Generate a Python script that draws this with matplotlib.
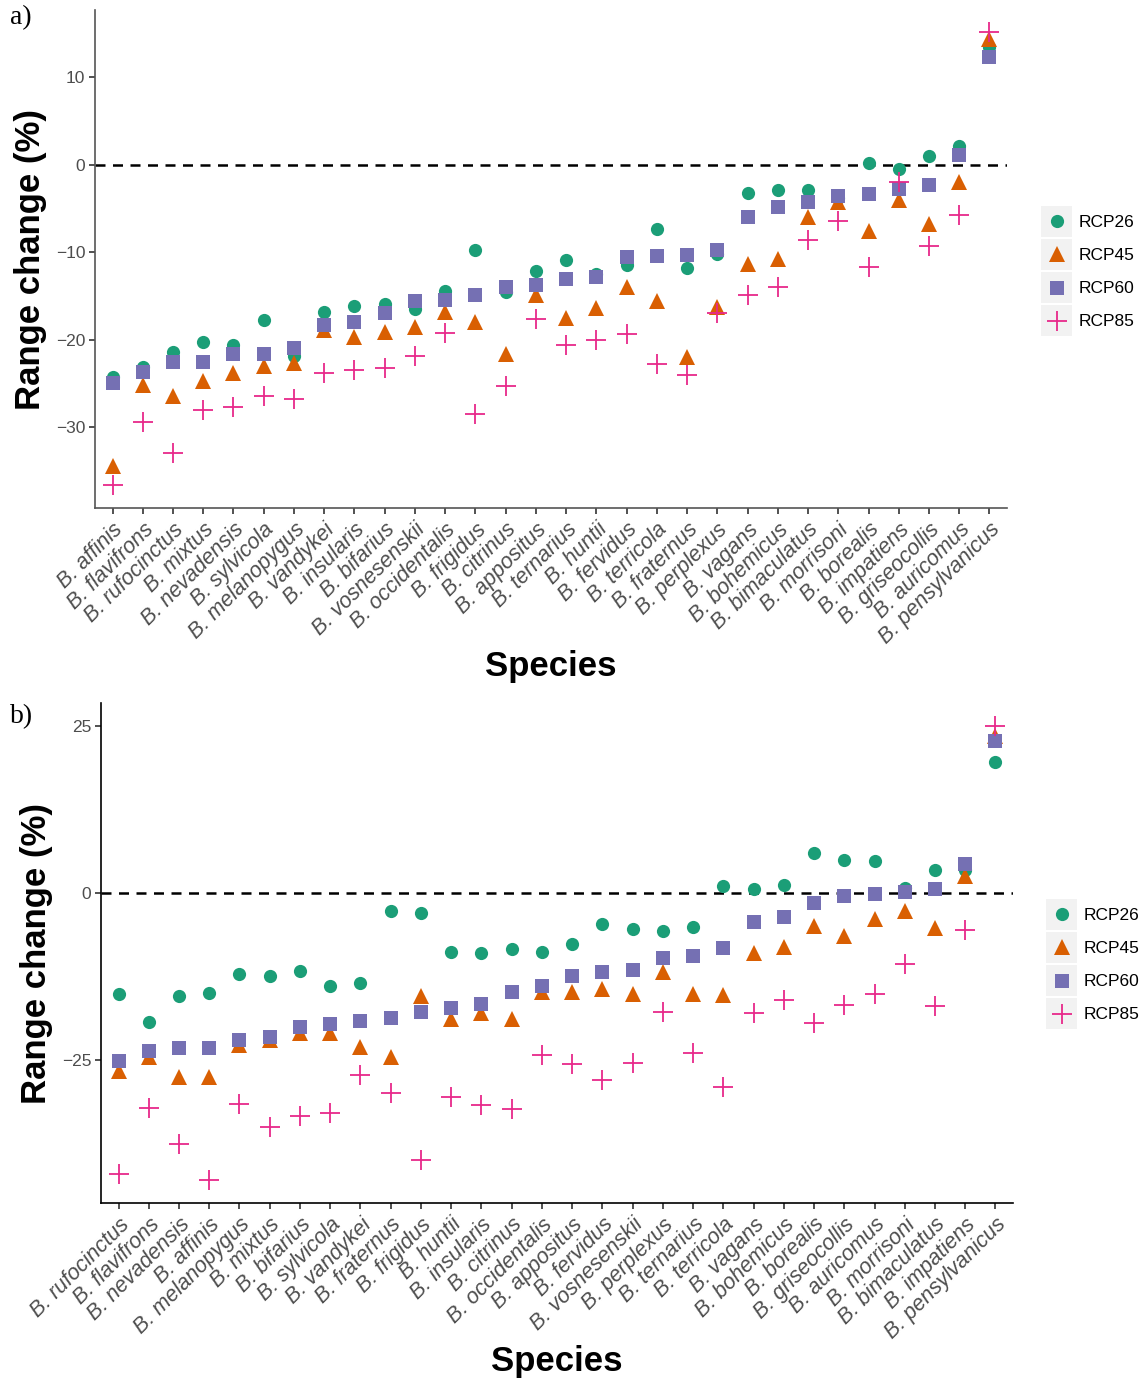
import matplotlib
matplotlib.use("Agg")
import matplotlib.pyplot as plt
from matplotlib.legend_handler import HandlerBase
from matplotlib.patches import Rectangle
from matplotlib.lines import Line2D

# ---- panel a data ----
species_a = ["affinis", "flavifrons", "rufocinctus", "mixtus", "nevadensis",
             "sylvicola", "melanopygus", "vandykei", "insularis", "bifarius",
             "vosnesenskii", "occidentalis", "frigidus", "citrinus", "appositus",
             "ternarius", "huntii", "fervidus", "terricola", "fraternus",
             "perplexus", "vagans", "bohemicus", "bimaculatus", "morrisoni",
             "borealis", "impatiens", "griseocollis", "auricomus", "pensylvanicus"]
rcp26_a = [-24.2, -23.1, -21.4, -20.2, -20.6, -17.7, -21.8, -16.8, -16.1, -15.9,
           -16.5, -14.4, -9.7, -14.5, -12.1, -10.9, -12.5, -11.4, -7.3, -11.8,
           -10.2, -3.2, -2.9, -2.9, -3.8, 0.2, -0.5, 1.0, 2.2, 13.5]
rcp45_a = [-34.4, -25.1, -26.4, -24.7, -23.8, -23.0, -22.6, -18.9, -19.7, -19.1,
           -18.5, -16.8, -17.9, -21.6, -14.9, -17.5, -16.3, -14.0, -15.6, -22.0,
           -16.2, -11.3, -10.8, -5.9, -4.2, -7.5, -4.0, -6.8, -2.0, 14.4]
rcp60_a = [-24.9, -23.7, -22.5, -22.5, -21.6, -21.6, -20.9, -18.3, -17.9, -16.9,
           -15.6, -15.4, -14.9, -13.9, -13.7, -13.0, -12.8, -10.5, -10.4, -10.3,
           -9.7, -5.9, -4.8, -4.2, -3.5, -3.3, -2.7, -2.3, 1.1, 12.3]
rcp85_a = [-36.6, -29.4, -32.9, -28.0, -27.7, -26.4, -26.7, -23.8, -23.4, -23.2,
           -21.8, -19.2, -28.5, -25.3, -17.6, -20.6, -20.0, -19.3, -22.8, -24.0,
           -16.9, -14.9, -14.0, -8.6, -6.4, -11.7, -2.0, -9.3, -5.7, 15.2]

# ---- panel b data ----
species_b = ["rufocinctus", "flavifrons", "nevadensis", "affinis", "melanopygus",
             "mixtus", "bifarius", "sylvicola", "vandykei", "fraternus",
             "frigidus", "huntii", "insularis", "citrinus", "occidentalis",
             "appositus", "fervidus", "vosnesenskii", "perplexus", "ternarius",
             "terricola", "vagans", "bohemicus", "borealis", "griseocollis",
             "auricomus", "morrisoni", "bimaculatus", "impatiens", "pensylvanicus"]
rcp26_b = [-15.1, -19.3, -15.4, -15.0, -12.1, -12.4, -11.7, -13.9, -13.5, -2.7,
           -3.0, -8.9, -9.0, -8.4, -8.9, -7.7, -4.6, -5.4, -5.7, -5.1,
           1.0, 0.6, 1.1, 6.0, 4.9, 4.8, 0.7, 3.4, 3.4, 19.5]
rcp45_b = [-26.7, -24.5, -27.5, -27.6, -22.8, -22.0, -21.0, -21.0, -23.0, -24.5,
           -15.5, -18.8, -18.0, -18.8, -14.8, -14.8, -14.4, -15.1, -11.9, -15.1,
           -15.3, -9.0, -8.1, -5.0, -6.4, -3.9, -2.7, -5.3, 2.5, 23.4]
rcp60_b = [-25.1, -23.6, -23.2, -23.2, -22.0, -21.5, -20.0, -19.6, -19.1, -18.7,
           -17.9, -17.2, -16.6, -14.8, -13.9, -12.5, -11.9, -11.5, -9.7, -9.4,
           -8.2, -4.4, -3.6, -1.5, -0.4, -0.1, 0.2, 0.6, 4.3, 22.7]
rcp85_b = [-42.1, -32.2, -37.5, -42.9, -31.6, -35.1, -33.4, -33.0, -27.2, -29.9,
           -39.9, -30.5, -31.8, -32.3, -24.2, -25.6, -28.0, -25.4, -17.9, -24.0,
           -29.0, -18.0, -16.0, -19.5, -16.8, -15.2, -10.6, -17.0, -5.6, 25.0]

series_names = ["RCP26", "RCP45", "RCP60", "RCP85"]
styles = [
    dict(marker="o", color="#1B9E77", ms=9.5, mew=0, z=2),
    dict(marker="^", color="#D95F02", ms=12, mew=0, z=3),
    dict(marker="s", color="#7570B3", ms=10, mew=0, z=4),
    dict(marker="+", color="#E7298A", ms=14.5, mew=1.3, z=5),
]


class KeyHandler(HandlerBase):
    # ggplot-like legend key: grey box with the point in the middle
    def __init__(self, st):
        super().__init__()
        self.st = st

    def create_artists(self, legend, orig_handle, xdescent, ydescent,
                       width, height, fontsize, trans):
        bg = Rectangle((-xdescent, -ydescent), width, height,
                       facecolor="#F2F2F2", edgecolor="none", transform=trans)
        st = self.st
        mk = Line2D([width / 2 - xdescent], [height / 2 - ydescent],
                    marker=st["marker"], color=st["color"], ms=st["ms"],
                    mew=st["mew"], linestyle="none", transform=trans)
        return [bg, mk]


def draw_panel(ax, species, series, ylim, yticks, spine_color):
    x = list(range(len(species)))
    ax.axhline(0, color="black", linestyle=(0, (4, 3)), lw=1.8, zorder=1)
    handles = []
    for vals, st in zip(series, styles):
        h, = ax.plot(x, vals, linestyle="none", marker=st["marker"],
                     color=st["color"], ms=st["ms"], mew=st["mew"],
                     zorder=st["z"])
        handles.append(h)
    ax.set_xlim(-0.58, len(species) - 0.42)
    ax.set_ylim(*ylim)
    ax.set_yticks(yticks)
    ax.set_yticklabels([str(t).replace("-", "\u2212") for t in yticks])
    ax.set_xticks(x)
    ax.set_xticklabels(["B. " + s for s in species], rotation=45,
                       ha="right", va="top", rotation_mode="anchor",
                       style="italic", fontsize=15.5, color="#4D4D4D")
    for side in ["top", "right"]:
        ax.spines[side].set_visible(False)
    for side in ["left", "bottom"]:
        ax.spines[side].set_color(spine_color)
        ax.spines[side].set_linewidth(1.2)
    ax.tick_params(axis="both", length=4, width=1.2, color="#333333")
    ax.tick_params(axis="y", labelsize=12.5, labelcolor="#4D4D4D", pad=3)
    ax.tick_params(axis="x", pad=4)
    ax.set_ylabel("Range change (%)", fontsize=25, fontweight="bold",
                  labelpad=6)
    ax.set_xlabel("Species", fontsize=25, fontweight="bold", labelpad=1)
    return handles


plt.rcParams["font.family"] = ["Liberation Sans", "DejaVu Sans"]
fig = plt.figure(figsize=(11.45, 13.79), dpi=100)
W, H = 1145, 1379

ax_a = fig.add_axes([95 / W, 1 - 508 / H, 912 / W, 498 / H])
ax_b = fig.add_axes([101 / W, 1 - 1203 / H, 912 / W, 500 / H])

h_a = draw_panel(ax_a, species_a, [rcp26_a, rcp45_a, rcp60_a, rcp85_a],
                 (-39.2, 17.7), [-30, -20, -10, 0, 10], "#555555")
h_b = draw_panel(ax_b, species_b, [rcp26_b, rcp45_b, rcp60_b, rcp85_b],
                 (-46.4, 28.4), [-25, 0, 25], "black")

handler_map_a = {h: KeyHandler(st) for h, st in zip(h_a, styles)}
handler_map_b = {h: KeyHandler(st) for h, st in zip(h_b, styles)}
for handles, hmap, anchor in [(h_a, handler_map_a, (1041 / W, 1 - 271 / H)),
                              (h_b, handler_map_b, (1046 / W, 1 - 964 / H))]:
    fig.legend(handles, series_names, handler_map=hmap, loc="center left",
               bbox_to_anchor=anchor, frameon=False, fontsize=12.5,
               handlelength=1.8, handleheight=2.4, handletextpad=0.35,
               labelspacing=0.1, borderpad=0, borderaxespad=0)

fig.text(10 / W, 1 - 18 / H, "a)", fontsize=20, family="Liberation Serif",
         va="center", ha="left")
fig.text(10 / W, 1 - 717 / H, "b)", fontsize=20, family="Liberation Serif",
         va="center", ha="left")

fig.savefig("out.png", dpi=100)
